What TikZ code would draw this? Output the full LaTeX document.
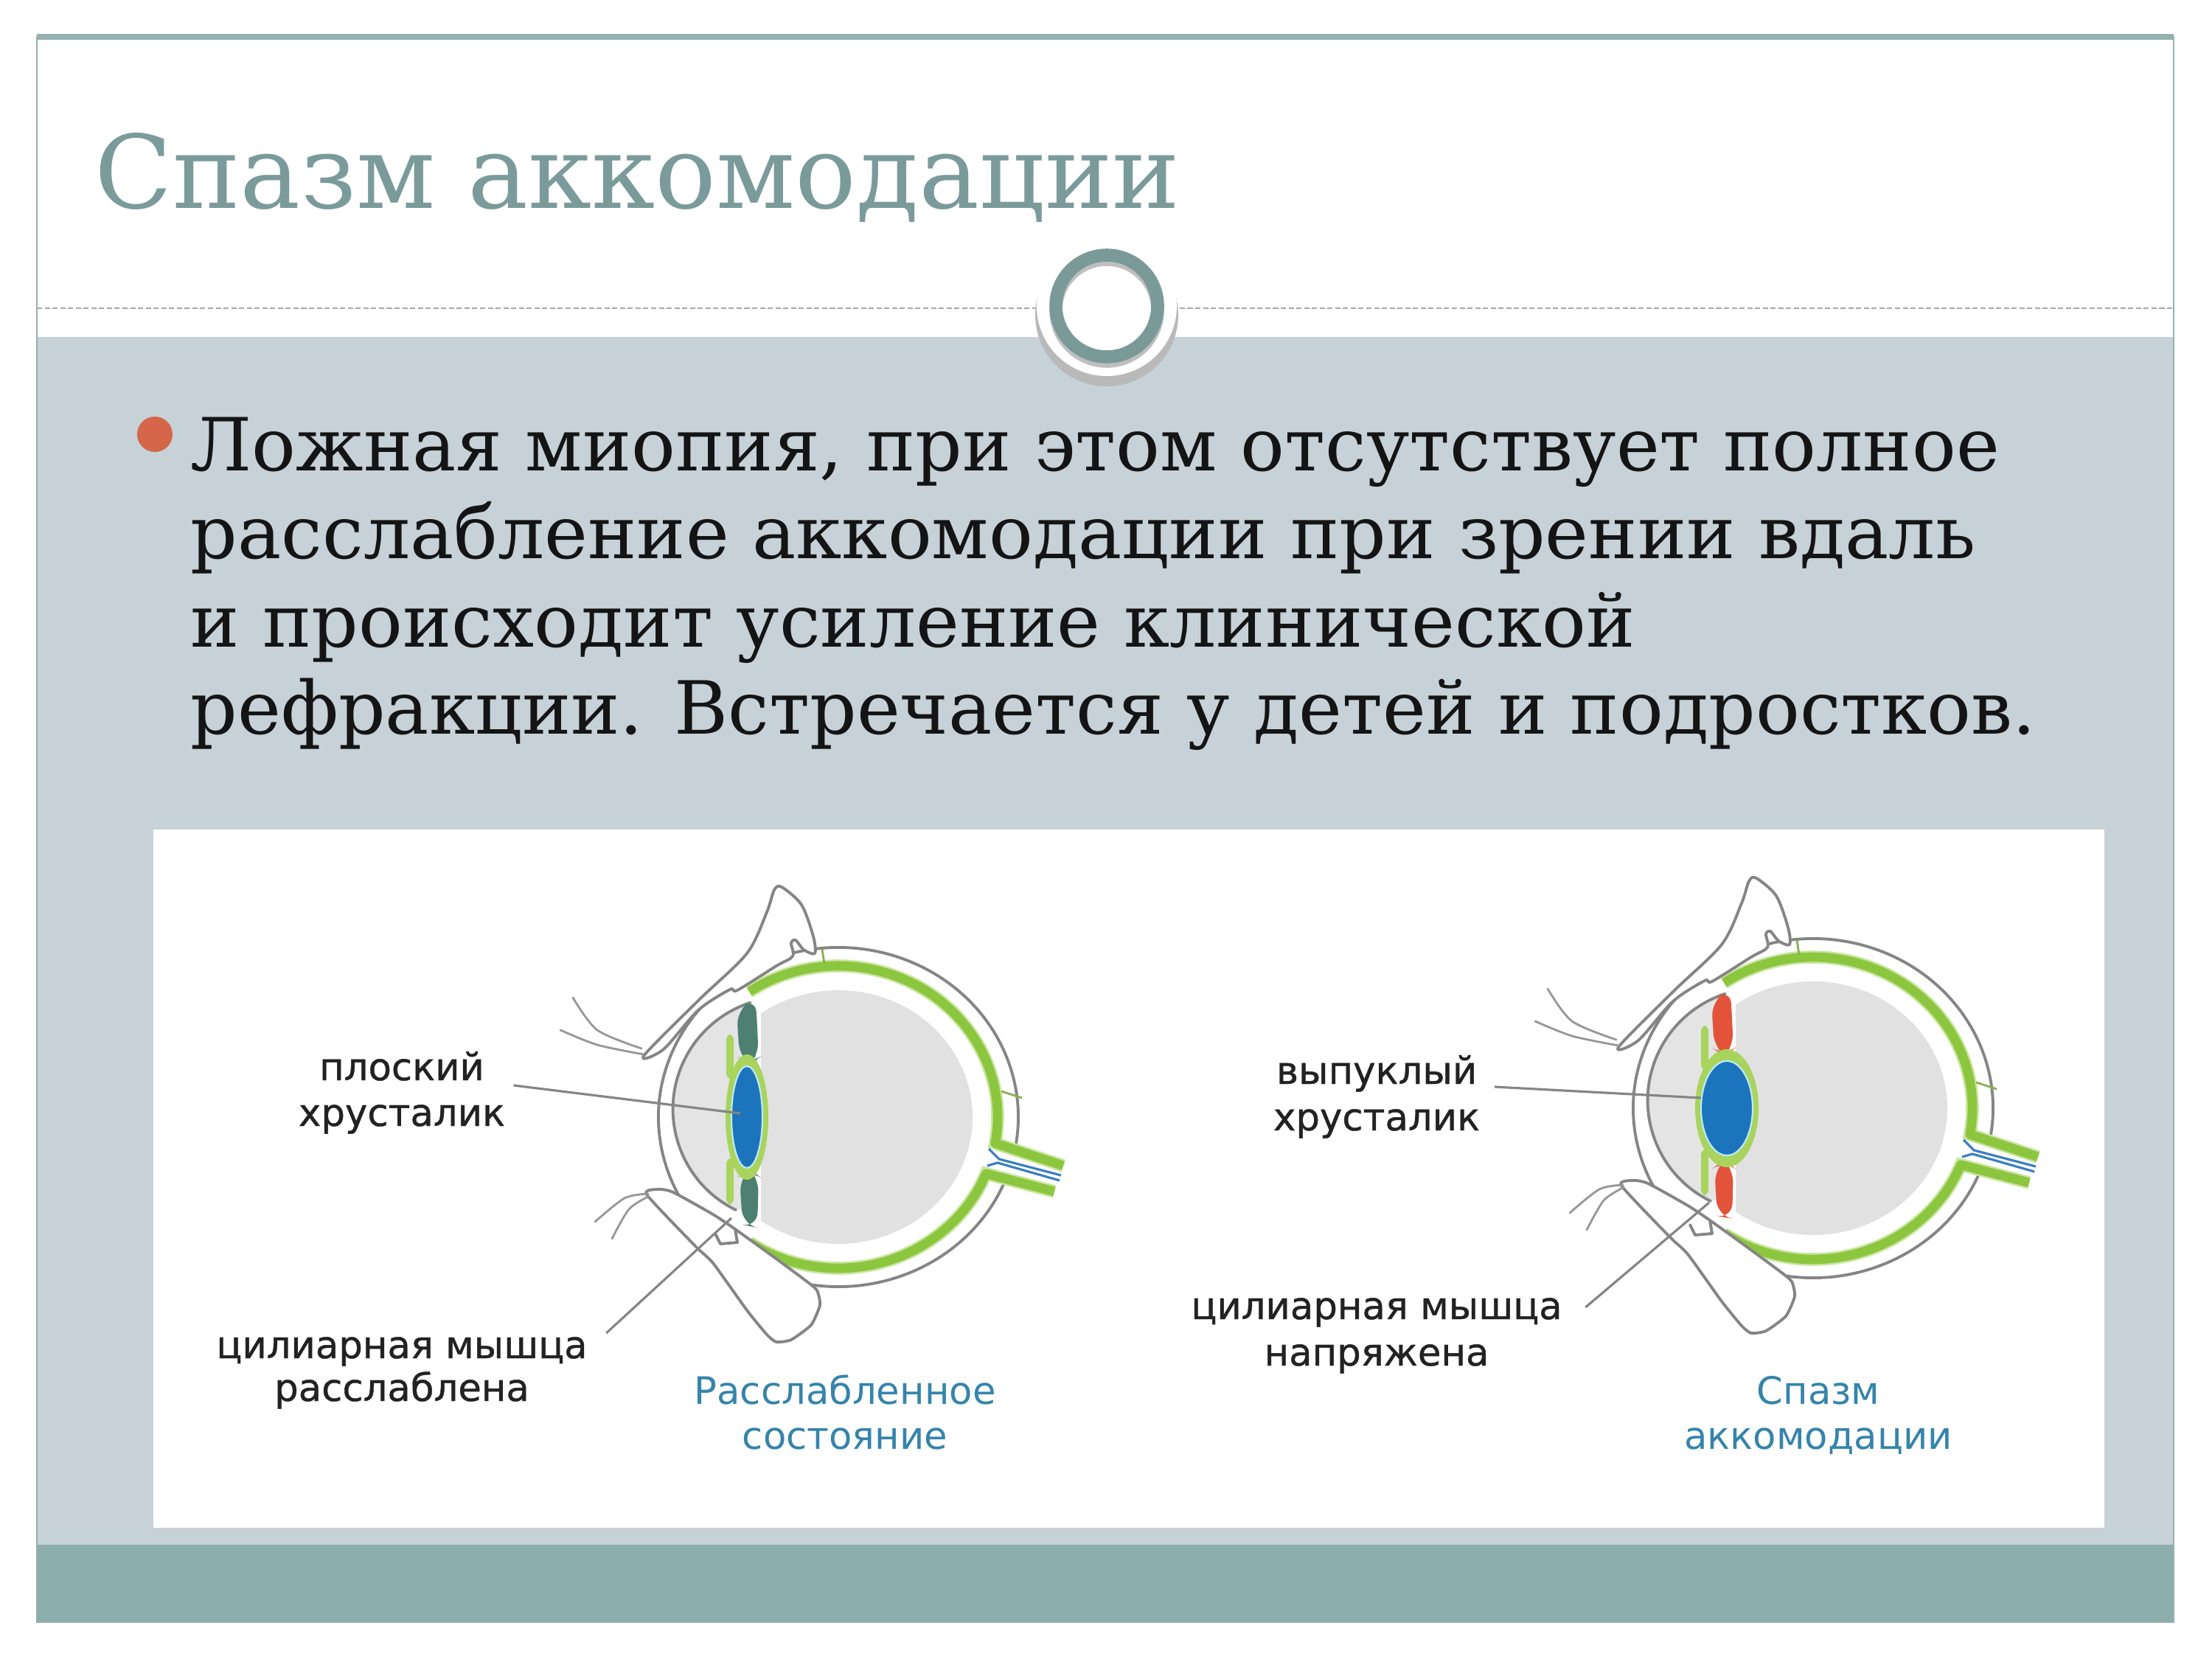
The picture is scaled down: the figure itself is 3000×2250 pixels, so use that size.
\documentclass[tikz,border=0pt]{standalone}
\usepackage{fontspec}
\setmainfont{DejaVu Serif}
\newfontfamily\labelfont{DejaVu Sans}
\newfontfamily\darklabelfont[FakeBold=0.8]{DejaVu Sans}
\usetikzlibrary{positioning}

\definecolor{slidetitle}{HTML}{7B9B9B}
\definecolor{slideband}{HTML}{C6D2D7}
\definecolor{slidefoot}{HTML}{8CAEAC}
\definecolor{slideframe}{HTML}{97B0B0}
\definecolor{ringteal}{HTML}{7A9A98}
\definecolor{bulletred}{HTML}{D5664A}
\definecolor{bodyblack}{HTML}{141414}
\definecolor{labelgray}{HTML}{222222}
\definecolor{outline}{HTML}{858585}
\definecolor{retina}{HTML}{8CC63F}
\definecolor{retinalight}{HTML}{C9E6A0}
\definecolor{zonule}{HTML}{A8D45E}
\definecolor{lensblue}{HTML}{1C75BC}
\definecolor{vesselblue}{HTML}{3A7FC0}
\definecolor{vitreous}{HTML}{E1E1E1}
\definecolor{chamber}{HTML}{E4E4E4}
\definecolor{relaxmuscle}{HTML}{4D8070}
\definecolor{spasmmuscle}{HTML}{E2533A}
\definecolor{captionblue}{HTML}{3584AB}

\tikzset{
  contour/.style={draw=outline, line width=1.1pt, line join=round, line cap=round},
  lidshape/.style={contour, fill=white},
  lash/.style={draw=outline!85, line width=0.8pt, line cap=round},
  retinaband/.style={draw=retina, line width=3.6pt, line join=round,
    preaction={draw=retinalight, line width=5pt}},
  vessel/.style={draw=vesselblue, line width=0.9pt},
  insertion/.style={draw=retina!70!gray, line width=0.8pt},
  leader/.style={draw=outline, line width=0.9pt},
  divider/.style={draw=gray!70, line width=0.8pt, dash pattern=on 2pt off 1pt},
  titletext/.style={font=\fontsize{39.2}{47}\selectfont, text=slidetitle, inner sep=0pt, anchor=base west},
  bodyline/.style={font=\fontsize{28.3}{34}\selectfont, text=bodyblack, inner sep=0pt, anchor=base west},
  bullet/.style={circle, fill=bulletred, minimum size=4.8mm, inner sep=0pt},
  eyelabel/.style={font=\darklabelfont\fontsize{14.6}{17}\selectfont, text=labelgray, inner sep=0pt, anchor=base},
  statelabel/.style={eyelabel, font=\labelfont\fontsize{14.6}{17}\selectfont, text=captionblue},
}

% eye cut: centre x, centre y, muscle colour, lens offset, lens x radius, lens y radius
\newcommand{\eyesection}[6]{%
  \begin{scope}[shift={(#1,#2)}]
    % vitreous body
    \begin{scope}
      \clip (-105,-200) rectangle (200,200);
      \fill[vitreous] (0,0) ellipse [x radius=182, y radius=172];
    \end{scope}
    % anterior chamber
    \fill[chamber] (-139,126) arc[start angle=116, end angle=252, radius=152]
      -- (-112,-150) -- (-112,120) -- cycle;
    % sclera and cornea
    \draw[contour] (22:244 and 230) arc[start angle=22, end angle=370, x radius=244, y radius=230];
    \draw[contour] (-139,126) arc[start angle=116, end angle=252, radius=152];
    % retina with optic nerve
    \draw[retinaband] (-124:216 and 205) arc[start angle=-124, end angle=10, x radius=216, y radius=205] -- (305,66);
    \draw[retinaband] (293,101) -- (22:216 and 205) arc[start angle=22, end angle=124, x radius=216, y radius=205];
    \draw[vessel] (204,43) -- (218,57) -- (302,79);
    \draw[vessel] (202,66) -- (216,62) -- (300,86);
    \draw[insertion] (-22,-228) -- (-19,-208);
    \draw[insertion] (221,-35) -- (249,-26);
    % ciliary muscle, zonule and lens
    \fill[#3, rounded corners=6] (-138,-146) -- (-112,-162) -- (-108,-80) -- (-120,-70) -- (-134,-80) -- cycle;
    \fill[#3, rounded corners=6] (-134,80) -- (-120,70) -- (-108,80) -- (-110,150) -- (-130,146) -- cycle;
    \fill[zonule] (#4,0) ellipse [x radius=#5+8, y radius=#6+16];
    \fill[lensblue, draw=cyan!25, line width=0.6pt] (#4,0) ellipse [x radius=#5, y radius=#6];
    \fill[zonule, rounded corners=2] (-152,-112) rectangle (-142,-52);
    \fill[zonule, rounded corners=2] (-152,56) rectangle (-142,118);
    % eyelids
    \draw[lidshape] plot[smooth cycle, tension=0.5] coordinates {(-264,-83) (-190,-158) (-124,-222)
      (-97,-278) (-87,-308) (-77,-312) (-50,-288) (-34,-245) (-32,-222) (-47,-227) (-58,-240)
      (-64,-236) (-62,-218) (-84,-205) (-137,-172) (-147,-173) (-190,-145) (-237,-92)};
    \draw[lidshape] plot[smooth cycle, tension=0.35] coordinates {(-260,105) (-244,98) (-224,102)
      (-170,132) (-140,152) (-90,188) (-44,222) (-29,235) (-25,255) (-37,282) (-64,302)
      (-84,305) (-97,295) (-124,262) (-170,198) (-194,175)};
    \draw[lidshape] (-167,158) -- (-160,172) -- (-137,170) -- (-140,152);
    % lashes
    \draw[lash] plot[smooth] coordinates {(-360,-162) (-327,-118) (-267,-93)};
    \draw[lash] plot[smooth] coordinates {(-377,-118) (-327,-98) (-264,-85)};
    \draw[lash] plot[smooth] coordinates {(-330,142) (-290,110) (-258,104)};
    \draw[lash] plot[smooth] coordinates {(-307,165) (-284,125) (-258,108)};
  \end{scope}}

\begin{document}
\begin{tikzpicture}[x=0.1mm, y=-0.1mm]
  \useasboundingbox (0,0) rectangle (3000,2250);
  \fill[white] (0,0) rectangle (3000,2250);
  % slide background
  \fill[slideband] (50,457) rectangle (2948,2095);
  \fill[slidefoot] (50,2095) rectangle (2948,2200);
  \draw[slideframe, line width=0.8pt] (50,50) rectangle (2948,2200);
  \draw[slideframe, line width=2.2pt] (50,50) -- (2948,50);
  \draw[divider] (50,418) -- (2948,418);
  % ring on the divider
  \fill[gray!55] (1501,427) circle (97);
  \fill[white] (1501,415) circle (95);
  \draw[gray!50, line width=5pt] (1501,421) circle (69);
  \draw[ringteal, line width=5pt] (1501,415) circle (69);

  \node[titletext] (title) at (128,283) {Спазм аккомодации};
  \node[bullet] (dot) at (210,589) {};
  \node[bodyline] (line1) at (258,638) {Ложная миопия, при этом отсутствует полное};
  \node[bodyline] (line2) at (258,757) {расслабление аккомодации при зрении вдаль};
  \node[bodyline] (line3) at (258,877) {и происходит усиление клинической};
  \node[bodyline] (line4) at (258,995) {рефракции. Встречается у детей и подростков.};

  % picture panel
  \fill[white] (208,1125) rectangle (2854,2072);
  \eyesection{1137}{1515}{relaxmuscle}{-124}{21}{69}
  \eyesection{2459}{1503}{spasmmuscle}{-117}{35}{64}

  \coordinate (flatlens) at (1004,1510);
  \coordinate (convexlens) at (2307,1489);
  \coordinate (relaxedmuscle) at (992,1652);
  \coordinate (tensemuscle) at (2318,1631);

  \node[eyelabel] (flatA) at (545,1465) {плоский};
  \node[eyelabel] (flatB) at (545,1527) {хрусталик};
  \node[eyelabel] (relaxA) at (545,1842) {цилиарная мышца};
  \node[eyelabel] (relaxB) at (545,1900) {расслаблена};
  \node[statelabel] (stateA) at (1146,1904) {Расслабленное};
  \node[statelabel] (stateB) at (1146,1965) {состояние};

  \node[eyelabel] (convexA) at (1867,1470) {выпуклый};
  \node[eyelabel] (convexB) at (1867,1533) {хрусталик};
  \node[eyelabel] (tenseA) at (1867,1789) {цилиарная мышца};
  \node[eyelabel] (tenseB) at (1867,1852) {напряжена};
  \node[statelabel] (spasmA) at (2466,1904) {Спазм};
  \node[statelabel] (spasmB) at (2466,1965) {аккомодации};

  \draw[leader] ([shift={(39,7)}]flatA.base east) -- (flatlens);
  \draw[leader] ([shift={(23,4)}]convexA.base east) -- (convexlens);
  \draw[leader] ([shift={(25,-34)}]relaxA.base east) -- (relaxedmuscle);
  \draw[leader] ([shift={(31,-16)}]tenseA.base east) -- (tensemuscle);
\end{tikzpicture}
\end{document}
